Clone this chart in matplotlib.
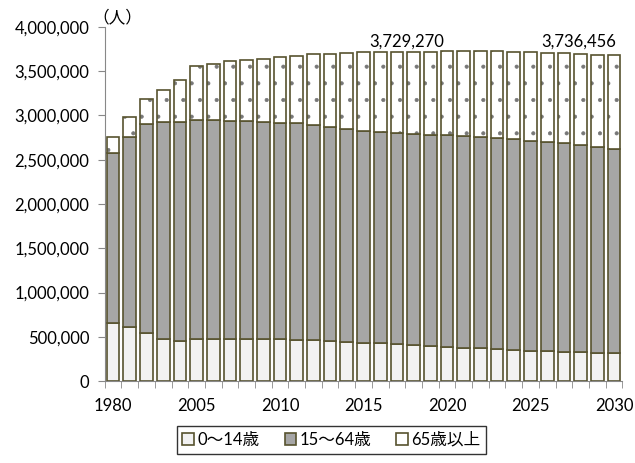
import matplotlib
matplotlib.use('Agg')
from matplotlib import pyplot as plt
import numpy as np

plt.rcParams['font.family'] = ['Lato', 'Noto Sans CJK JP', 'DejaVu Sans']
plt.rcParams['hatch.linewidth'] = 0.5

years = ['1980', '1985', '1990', '1995', '2000'] + [str(y) for y in range(2005, 2031)]
shown = ['1980', '2005', '2010', '2015', '2020', '2025', '2030']

# people
young = [652000, 614000, 539000, 475000, 456000, 471000, 471000, 475000, 475000, 471000,
         473000, 463000, 460000, 452000, 437000, 429000, 426000, 418000, 410000, 395000,
         386000, 376000, 369000, 362000, 350000, 343000, 335000, 328000, 324000, 320000, 320000]
working = [1928000, 2140000, 2365000, 2448000, 2467000, 2478000, 2478000, 2466000, 2459000, 2452000,
           2439000, 2452000, 2436000, 2418000, 2410000, 2399000, 2388000, 2384000, 2381000, 2388000,
           2388000, 2389000, 2388000, 2384000, 2384000, 2372000, 2369000, 2357000, 2346000, 2328000, 2298000]
elderly = [181000, 226000, 286000, 367000, 477000, 614000, 633000, 671000, 693000, 719000,
           749000, 759000, 792000, 828000, 859000, 886000, 904000, 919000, 930000, 938000,
           951000, 960000, 972000, 981000, 987000, 1006000, 1006000, 1017000, 1025000, 1039000, 1062000]
series_names = ['0～14歳', '15～64歳', '65歳以上']
callouts = ['3,729,270', '3,736,456']

edge = '#57532f'
fig = plt.figure(figsize=(6.35, 4.63), dpi=100)
ax = fig.add_axes([0.165, 0.177, 0.815, 0.765])

x = np.arange(len(years))
w = 0.76
young = np.array(young)
working = np.array(working)
elderly = np.array(elderly)
b1 = ax.bar(x, young, w, color='#f2f2f2', edgecolor=edge, linewidth=1.2, label=series_names[0])
b2 = ax.bar(x, working, w, bottom=young, color='#a6a6a6', edgecolor=edge, linewidth=1.2, label=series_names[1])
# dotted fill first, then the outline on top
ax.bar(x, elderly, w, bottom=young + working, color='white', edgecolor='#777777', linewidth=0,
       hatch='.')
b3 = ax.bar(x, elderly, w, bottom=young + working, color='none', edgecolor=edge, linewidth=1.2,
            label=series_names[2])

ax.set_xlim(-0.5, len(years) - 0.5)
ax.set_ylim(0, 4000000)
ax.set_yticks(np.arange(0, 4000001, 500000))
ax.set_yticklabels(['{:,}'.format(v) for v in range(0, 4000001, 500000)], fontsize=12)
ax.set_xticks(x)
ax.set_xticklabels([y if y in shown else '' for y in years], fontsize=12)
ax.set_xticks(np.arange(-0.5, len(years)), minor=True)
ax.tick_params(axis='x', which='major', length=0, pad=12)
ax.tick_params(axis='x', which='minor', length=5, color='#888888', direction='out')
ax.tick_params(axis='y', length=5, color='#888888', direction='out', pad=6)
for s in ['top', 'right']:
    ax.spines[s].set_visible(False)
for s in ['left', 'bottom']:
    ax.spines[s].set_color('#888888')

ax.text(17.6, 3830000, callouts[0], ha='center', va='center', fontsize=12)
ax.text(27.9, 3830000, callouts[1], ha='center', va='center', fontsize=12)
fig.text(0.145, 0.962, '（人）', ha='left', va='center', fontsize=12)

leg = fig.legend(handles=[b1, b2, b3], loc='center', bbox_to_anchor=(0.522, 0.05), ncol=3,
                 fontsize=12, frameon=True, fancybox=False, edgecolor='black',
                 handlelength=0.7, handleheight=0.7, handletextpad=0.2, columnspacing=1.5,
                 borderpad=0.35)
leg.get_frame().set_linewidth(1.0)

fig.savefig('out.png', dpi=100)
